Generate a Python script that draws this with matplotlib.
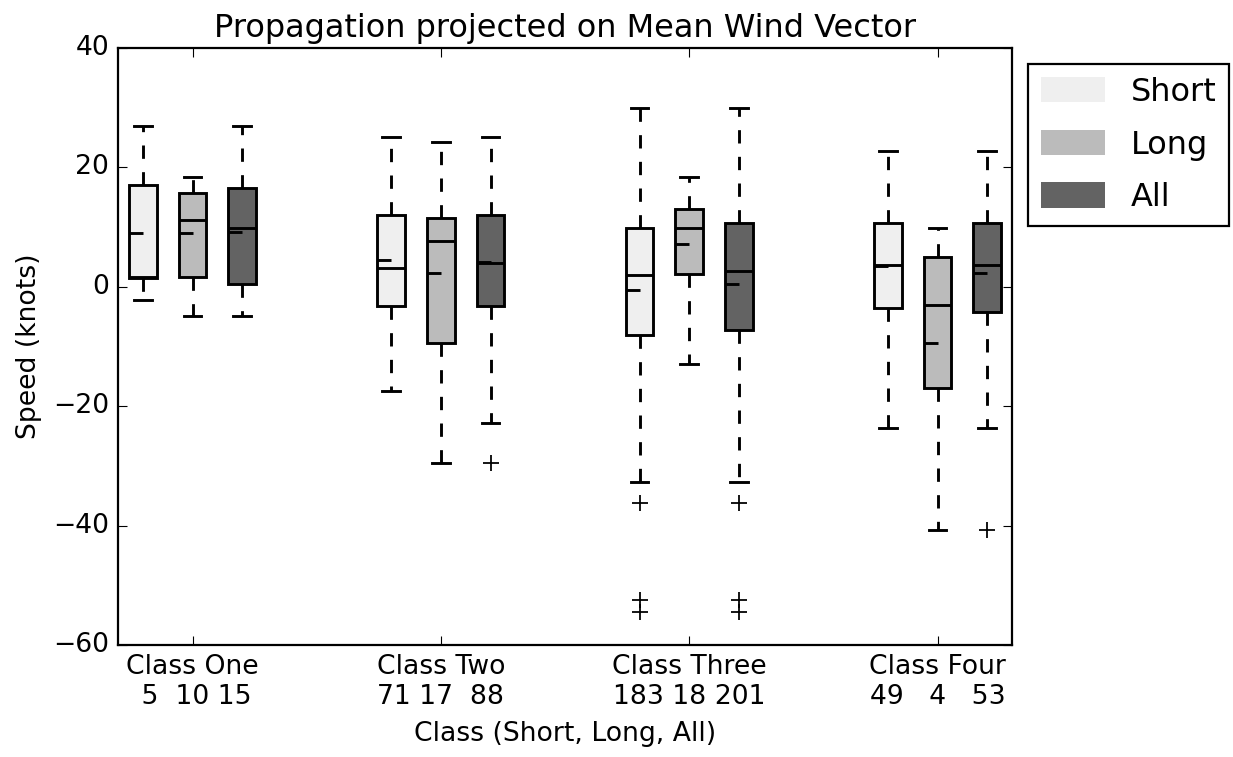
import matplotlib
matplotlib.use("Agg")
import matplotlib.pyplot as plt
from matplotlib.patches import Patch

plt.style.use("classic")

# ---- data -------------------------------------------------------------
class_names = ["Class One", "Class Two", "Class Three", "Class Four"]
count_labels = [" 5  10 15", "71 17  88", "183 18 201", "49   4   53"]
series_names = ["Short", "Long", "All"]
series_colors = ["#efefef", "#bbbbbb", "#636363"]

# per series, per class: lower whisker, Q1, median, Q3, upper whisker
short_whislo = [-2.2, -17.5, -32.7, -23.7]
short_q1 = [1.4, -3.2, -8.1, -3.6]
short_med = [1.7, 3.1, 1.9, 3.6]
short_q3 = [17.0, 12.0, 9.9, 10.7]
short_whishi = [26.9, 25.1, 30.0, 22.8]
short_mean = [9.0, 4.5, -0.5, 3.4]
short_fliers = [[], [], [-36.2, -52.4, -54.5], []]

long_whislo = [-4.9, -29.6, -13.0, -40.7]
long_q1 = [1.7, -9.5, 2.2, -16.9]
long_med = [11.2, 7.6, 9.9, -3.0]
long_q3 = [15.7, 11.6, 13.0, 5.0]
long_whishi = [18.4, 24.2, 18.4, 9.9]
long_mean = [9.0, 2.3, 7.1, -9.4]
long_fliers = [[], [], [], []]

all_whislo = [-4.9, -22.8, -32.7, -23.7]
all_q1 = [0.4, -3.2, -7.2, -4.3]
all_med = [9.8, 4.0, 2.6, 3.6]
all_q3 = [16.6, 12.0, 10.7, 10.7]
all_whishi = [26.9, 25.1, 30.0, 22.8]
all_mean = [9.1, 4.07, 0.4, 2.3]
all_fliers = [[], [-29.6], [-36.2, -52.4, -54.5], [-40.7]]

series = [
    (short_whislo, short_q1, short_med, short_q3, short_whishi, short_mean, short_fliers),
    (long_whislo, long_q1, long_med, long_q3, long_whishi, long_mean, long_fliers),
    (all_whislo, all_q1, all_med, all_q3, all_whishi, all_mean, all_fliers),
]

# ---- layout -----------------------------------------------------------
group_centers = [2, 7, 12, 17]
box_width = 0.56

fig = plt.figure(figsize=(1233 / 160, 757 / 160), dpi=160, facecolor="white")
ax = fig.add_axes([0.0957, 0.148, 0.7251, 0.7886])
ax.set_facecolor("white")

stats, positions, colors, means = [], [], [], []
for ci, c in enumerate(group_centers):
    for si, s in enumerate(series):
        lo, q1, med, q3, hi, mean, fl = s
        stats.append(dict(whislo=lo[ci], q1=q1[ci], med=med[ci], q3=q3[ci],
                          whishi=hi[ci], fliers=fl[ci], mean=mean[ci]))
        positions.append(c + si - 1)
        colors.append(series_colors[si])
        means.append(mean[ci])

lw = 1.3
bp = ax.bxp(stats, positions=positions, widths=box_width, capwidths=0.36,
            patch_artist=True, showmeans=False, showfliers=True,
            boxprops=dict(edgecolor="black", linewidth=lw),
            whiskerprops=dict(color="black", linestyle="--", linewidth=lw),
            capprops=dict(color="black", linewidth=lw),
            medianprops=dict(color="black", linewidth=lw),
            flierprops=dict(marker="+", markeredgecolor="black",
                            markersize=7, linestyle="none", markeredgewidth=0.8))
for patch, col in zip(bp["boxes"], colors):
    patch.set_facecolor(col)

# mean marks: from the left edge of each box to its centre
xs_left = [p - box_width / 2 for p in positions]
ax.hlines(means, xs_left, positions, colors="black", linewidth=lw, zorder=5)

ax.set_xlim(0.5, 18.5)
ax.set_ylim(-60, 40)
ax.set_yticks([-60, -40, -20, 0, 20, 40])
ax.set_xticks(group_centers)
ax.set_xticklabels([f"{n}\n{c}" for n, c in zip(class_names, count_labels)])

ax.set_title("Propagation projected on Mean Wind Vector")
ax.set_xlabel("Class (Short, Long, All)")
ax.set_ylabel("Speed (knots)")

handles = [Patch(facecolor=c, edgecolor="none") for c in series_colors]
ax.legend(handles, series_names, loc="upper left", bbox_to_anchor=(1.0, 1.0),
          borderaxespad=0.5, labelspacing=0.68, handleheight=0.85)

fig.savefig("out.png", dpi=160, facecolor="white")
